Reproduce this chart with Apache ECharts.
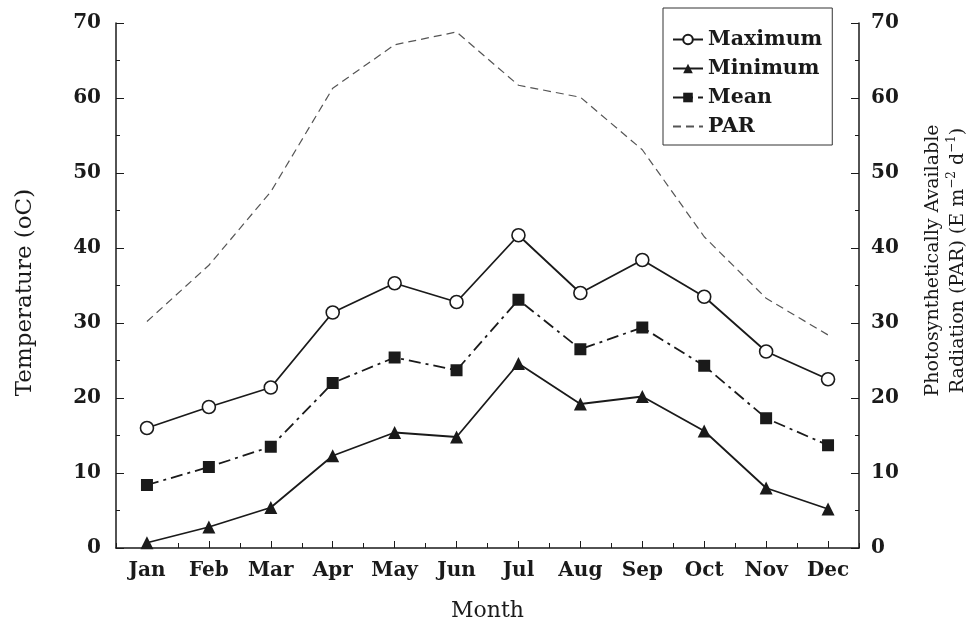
<!DOCTYPE html>
<html>
<head>
<meta charset="utf-8">
<style>
  html, body { margin: 0; padding: 0; background: #fff; }
  #chart { width: 977px; height: 623px; }
</style>
<script src="https://cdn.jsdelivr.net/npm/echarts@6/dist/echarts.min.js"></script>
</head>
<body>
<div id="chart"></div>
<script>
// Monthly temperatures (°C) and photosynthetically available radiation
const months = ['Jan', 'Feb', 'Mar', 'Apr', 'May', 'Jun', 'Jul', 'Aug', 'Sep', 'Oct', 'Nov', 'Dec'];
const maximumTemp = [16.0, 18.8, 21.4, 31.4, 35.3, 32.8, 41.7, 34.0, 38.4, 33.5, 26.2, 22.5];
const minimumTemp = [0.7, 2.8, 5.4, 12.3, 15.4, 14.8, 24.6, 19.2, 20.2, 15.6, 8.0, 5.2];
const meanTemp = [8.4, 10.8, 13.5, 22.0, 25.4, 23.7, 33.1, 26.5, 29.4, 24.3, 17.3, 13.7];
const parValues = [30.2, 37.7, 47.5, 61.3, 67.1, 68.8, 61.7, 60.1, 53.1, 41.5, 33.3, 28.4];
const yTicks = { min: 0, max: 70, interval: 10 };

const serif = '"DejaVu Serif", "Liberation Serif", serif';
const ink = '#1a1a1a';

const chart = echarts.init(document.getElementById('chart'), null, { renderer: 'canvas' });

const valueAxisBase = {
  type: 'value',
  min: yTicks.min,
  max: yTicks.max,
  interval: yTicks.interval,
  splitLine: { show: false },
  axisLine: { show: true, lineStyle: { color: ink, width: 1.5 } },
  axisTick: { show: true, inside: true, length: 8, lineStyle: { color: ink, width: 1 } },
  minorTick: { show: true, splitNumber: 2, length: 4, lineStyle: { color: ink, width: 1 } },
  axisLabel: { color: ink, fontFamily: serif, fontWeight: 'bold', fontSize: 20 },
  nameLocation: 'middle',
  nameTextStyle: { color: ink, fontFamily: serif, fontSize: 23 }
};

const option = {
  animation: false,
  backgroundColor: '#fff',
  grid: { left: 116, right: 118, top: 23, bottom: 75, containLabel: false, outerBoundsMode: 'none' },
  legend: {
    orient: 'vertical',
    left: 663,
    top: 8,
    padding: [21, 10, 8, 9],
    itemGap: 8,
    itemWidth: 30,
    itemHeight: 12,
    borderColor: '#333',
    borderWidth: 1,
    backgroundColor: '#fff',
    textStyle: { color: ink, fontFamily: serif, fontWeight: 'bold', fontSize: 20.5, padding: [0, 0, 0, 0] },
    data: [
      'Maximum',
      'Minimum',
      'Mean',
      { name: 'PAR', itemStyle: { opacity: 0 } }
    ]
  },
  xAxis: [
    {
      type: 'category',
      data: months,
      boundaryGap: true,
      name: 'Month',
      nameLocation: 'middle',
      nameGap: 52,
      nameTextStyle: { color: ink, fontFamily: serif, fontSize: 22 },
      axisLine: { show: true, lineStyle: { color: ink, width: 1.5 } },
      axisTick: { show: true, inside: true, alignWithLabel: true, length: 7, lineStyle: { color: ink } },
      axisLabel: { color: ink, fontFamily: serif, fontWeight: 'bold', fontSize: 20, margin: 13, interval: 0 },
      splitLine: { show: false }
    },
    {
      // boundary ticks between months
      type: 'category',
      data: months,
      boundaryGap: true,
      position: 'bottom',
      axisLine: { show: false },
      axisTick: { show: true, inside: true, length: 5, lineStyle: { color: ink } },
      axisLabel: { show: false },
      splitLine: { show: false }
    }
  ],
  yAxis: [
    Object.assign({}, valueAxisBase, {
      position: 'left',
      name: 'Temperature (oC)',
      nameGap: 79,
      nameTextStyle: Object.assign({}, valueAxisBase.nameTextStyle, { padding: [0, 14, 0, 0] }),
      axisLabel: Object.assign({}, valueAxisBase.axisLabel, { margin: 15 })
    }),
    Object.assign({}, valueAxisBase, {
      position: 'right',
      nameRotate: 90,
      nameGap: 62,
      name: 'Photosynthetically Available\nRadiation (PAR) (E m{sup|\u22122} d{sup|\u22121})',
      nameTextStyle: {
        color: ink, fontFamily: serif, fontSize: 19, lineHeight: 25, align: 'center',
        padding: [0, 0, 0, 50],
        rich: {
          sup: { fontFamily: serif, fontSize: 12, verticalAlign: 'top', lineHeight: 25, padding: [0, 0, 8, 0], color: ink }
        }
      },
      axisLabel: Object.assign({}, valueAxisBase.axisLabel, { margin: 12 })
    })
  ],
  series: [
    {
      name: 'Maximum',
      type: 'line',
      data: maximumTemp,
      symbol: 'circle',
      symbolSize: 13,
      itemStyle: { color: '#fff', borderColor: ink, borderWidth: 1.6 },
      lineStyle: { color: ink, width: 1.8, type: 'solid' },
      z: 4
    },
    {
      name: 'Minimum',
      type: 'line',
      data: minimumTemp,
      symbol: 'triangle',
      symbolSize: 13,
      itemStyle: { color: ink },
      lineStyle: { color: ink, width: 1.8, type: 'solid' },
      z: 4
    },
    {
      name: 'Mean',
      type: 'line',
      data: meanTemp,
      symbol: 'rect',
      symbolSize: 12,
      itemStyle: { color: ink },
      lineStyle: { color: ink, width: 1.8, type: [12, 5, 3, 5] },
      z: 4
    },
    {
      name: 'PAR',
      type: 'line',
      yAxisIndex: 1,
      data: parValues,
      symbol: 'none',
      itemStyle: { color: '#666' },
      lineStyle: { color: '#555', width: 1.2, type: [8, 5] },
      z: 3
    }
  ]
};

chart.setOption(option);
</script>
</body>
</html>
